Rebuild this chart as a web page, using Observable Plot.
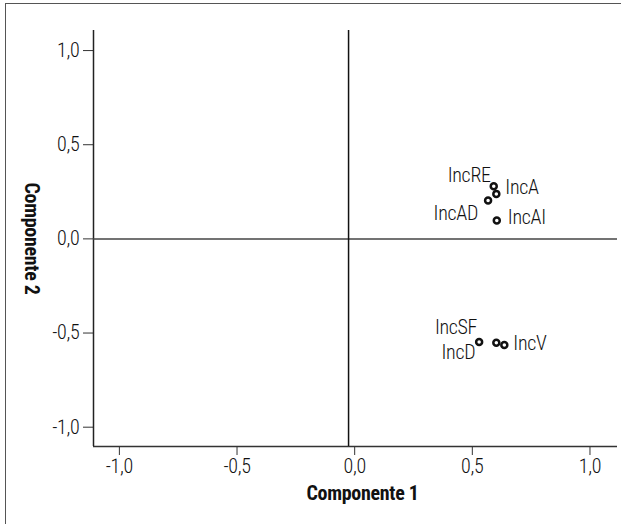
<!DOCTYPE html>
<html>
<head>
<meta charset="utf-8">
<script src="https://cdn.jsdelivr.net/npm/d3@7"></script>
<script src="https://cdn.jsdelivr.net/npm/@observablehq/plot@0.6"></script>
<style>
  html, body { margin: 0; padding: 0; background: #fff; }
  #wrap { position: relative; width: 621px; height: 524px; overflow: hidden; background: #fff; }
  #border { position: absolute; left: 5px; top: 3px; width: 640px; height: 560px; border-top: 1.5px solid #555; border-left: 1.5px solid #555; box-sizing: border-box; }
  #chart { position: absolute; left: 0; top: 0; }
  svg { font-family: "Roboto Condensed", "DejaVu Sans Condensed", sans-serif; }
  svg text { letter-spacing: -0.3px; }
</style>
</head>
<body>
<div id="wrap"><div id="border"></div><div id="chart"></div></div>
<script>
// Data
const labels = ["IncRE", "IncA", "IncAD", "IncAI", "IncSF", "IncD", "IncV"];
const comp1 = [0.591, 0.602, 0.567, 0.604, 0.529, 0.602, 0.636];
const comp2 = [0.280, 0.239, 0.204, 0.097, -0.547, -0.552, -0.563];
const tickValues = [-1, -0.5, 0, 0.5, 1];
const xTitle = "Componente 1";
const yTitle = "Componente 2";
const refX = -0.026; // vertical reference line as drawn
const refY = 0;

// Label placement (style)
const labelStyle = [
  {anchor: "end", dx: -3, dy: -11},
  {anchor: "start", dx: 9, dy: -6},
  {anchor: "end", dx: -10, dy: 13},
  {anchor: "start", dx: 11, dy: -3},
  {anchor: "end", dx: -2, dy: -14},
  {anchor: "end", dx: -21, dy: 10},
  {anchor: "start", dx: 9, dy: -1}
];

const data = labels.map((l, i) => ({label: l, x: comp1[i], y: comp2[i]}));
const xDomain = [-1.11, 1.117];
const yDomain = [-1.1025, 1.1066];
const fmt = d => d.toFixed(1).replace(".", ",");
const FS = 20;
const FW = 300;

const labelMarks = data.map((d, i) => Plot.text([d], {
  x: "x", y: "y", text: "label",
  textAnchor: labelStyle[i].anchor,
  dx: labelStyle[i].dx, dy: labelStyle[i].dy,
  fontSize: FS, fontWeight: FW, fill: "#111"
}));

const chart = Plot.plot({
  width: 621,
  height: 524,
  marginLeft: 93,
  marginRight: 4,
  marginTop: 30,
  marginBottom: 78,
  style: {background: "transparent", overflow: "visible"},
  x: {domain: xDomain, axis: null},
  y: {domain: yDomain, axis: null},
  marks: [
    Plot.axisX({ticks: tickValues, tickFormat: fmt, tickSize: 9, tickPadding: 3, fontSize: FS, fontWeight: FW, label: null, stroke: "#333", fill: "#111"}),
    Plot.axisY({ticks: tickValues, tickFormat: fmt, tickSize: 10, tickPadding: 4, fontSize: FS, fontWeight: FW, label: null, stroke: "#333", fill: "#111"}),
    Plot.ruleY([yDomain[0]], {stroke: "#333", strokeWidth: 1.5}),
    Plot.ruleX([xDomain[0]], {stroke: "#222", strokeWidth: 1.5}),
    Plot.ruleY([refY], {stroke: "#444", strokeWidth: 1.5}),
    Plot.ruleX([refX], {stroke: "#111", strokeWidth: 1.5}),
    Plot.dot(data, {x: "x", y: "y", r: 3, stroke: "#111", strokeWidth: 2.5, fill: "none"}),
    ...labelMarks,
    Plot.text([xTitle], {frameAnchor: "bottom", textAnchor: "middle", dy: 53, dx: 7, text: d => d, fontSize: FS, fontWeight: "bold", fill: "#111"}),
    Plot.text([yTitle], {frameAnchor: "left", textAnchor: "middle", dx: -62, rotate: 90, text: d => d, fontSize: FS, fontWeight: "bold", fill: "#111"})
  ]
});
document.getElementById("chart").appendChild(chart);
</script>
</body>
</html>
